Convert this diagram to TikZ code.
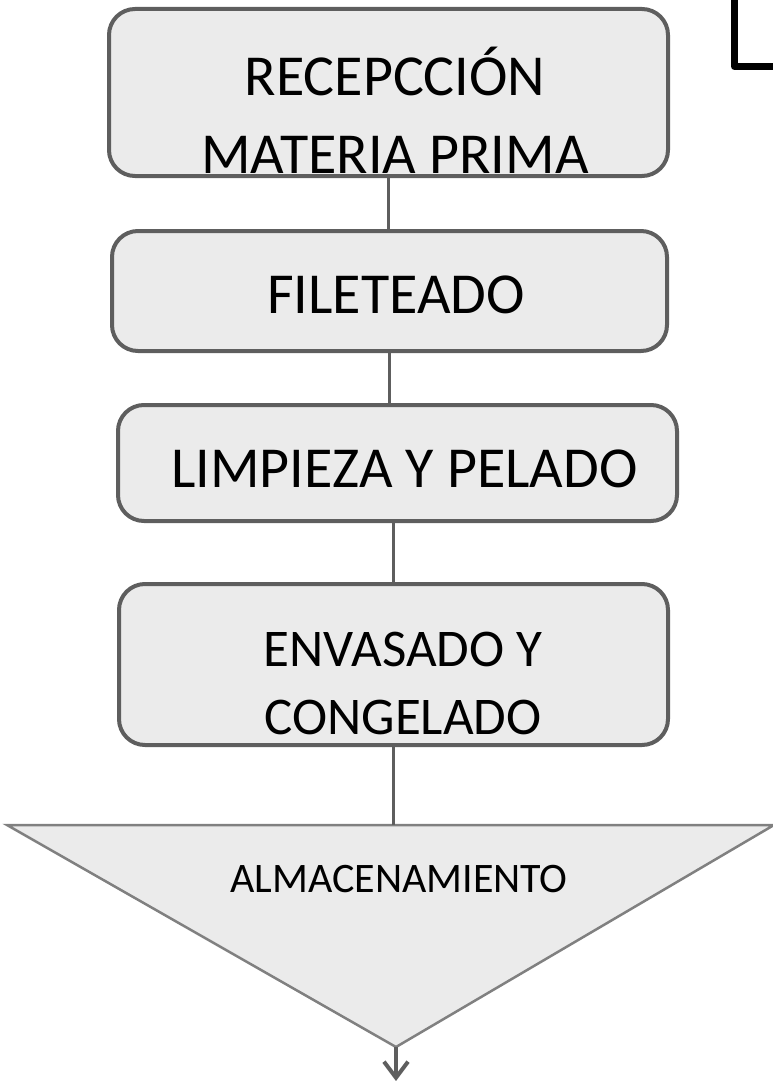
\documentclass[tikz,border=0pt]{standalone}
\usepackage{fontspec}
\setmainfont{Carlito}
\usetikzlibrary{positioning, arrows.meta}
\definecolor{boxfill}{HTML}{EBEBEB}
\definecolor{boxline}{HTML}{5E5E5E}
\definecolor{triline}{HTML}{808080}

\begin{document}
\begin{tikzpicture}[x=1pt,y=1pt,node distance=2cm,on grid,
		stepbox/.style={draw=boxline, fill=boxfill, line width=4pt, rounded corners=26pt, inner sep=0pt},
		steptext/.style={anchor=south, inner sep=0pt, align=center, font=\fontsize{58}{71}\selectfont},
		link/.style={draw=boxline, line width=3pt}]
		\useasboundingbox (0,0) rectangle (773,-1081);
		% process boxes
		\node[stepbox, minimum width=559pt, minimum height=167pt] 	(recep) 	at (388.5,-92.5) 				{};
		\node[stepbox, minimum width=555pt, minimum height=120pt] 	(filet) 	[below=198.5pt of recep, xshift=1pt] 	{};
		\node[stepbox, minimum width=559pt, minimum height=116pt] 	(limp) 	[below=172pt of filet, xshift=8pt] 	{};
		\node[stepbox, minimum width=549pt, minimum height=161pt] 	(envas) 	[below=201.5pt of limp, xshift=-4pt] 	{};
		% storage triangle
		\coordinate (alma-top) at (396,-825);
		\coordinate (alma-tip) at (396,-1047);
		\coordinate (out) 		at (396,-1081);
		\draw[draw=triline, fill=boxfill, line width=2.5pt] (7,-825) -- (774,-825) -- (alma-tip) -- cycle;
		% texts
		\node[steptext] (recep-txt) at (395,-174) 	{RECEPCCIÓN\\[7pt]MATERIA PRIMA};
		\node[steptext] (filet-txt) at (396,-314) 	{FILETEADO};
		\node[steptext] (limp-txt) 	at (404.5,-488) {LIMPIEZA Y PELADO};
		\node[steptext, font=\fontsize{53}{68}\selectfont] (envas-txt) at (403,-735) 	{ENVASADO Y\\CONGELADO};
		\node[steptext, font=\fontsize{42}{50}\selectfont] (alma) at (399,-893) {ALMACENAMIENTO};
		% connectors
		\path[link]
			(recep.south) 	edge 	(recep.south |- filet.north)
			(filet.south) 	edge 	(filet.south |- limp.north)
			(envas.north |- limp.south) 	edge 	(envas.north)
			(envas.south) 	edge 	(envas.south |- alma-top);
		\draw[link, line width=4pt, -{Straight Barb[length=16pt,width=24pt]}] (alma-tip) -- (out);
		% corner mark
		\draw[line width=7pt, line join=round] (734.5,5) |- (790,-66.5);
	\end{tikzpicture}
\end{document}
